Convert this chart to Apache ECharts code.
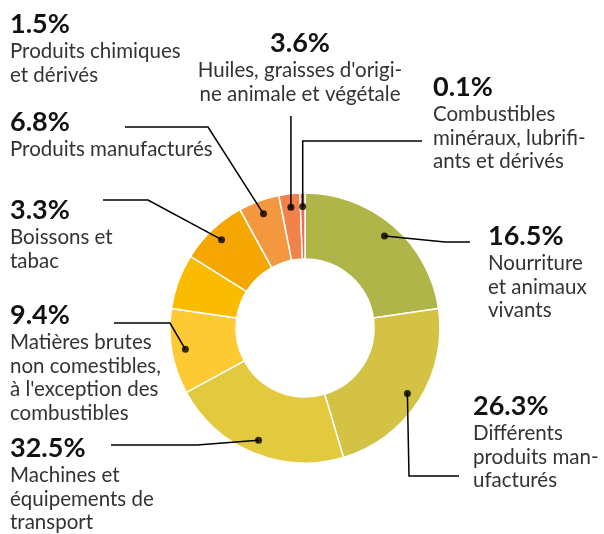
<!DOCTYPE html>
<html>
<head>
<meta charset="utf-8">
<script src="https://cdn.jsdelivr.net/npm/echarts@6/dist/echarts.min.js"></script>
<style>
    html, body { margin: 0; padding: 0; background: #fff; }
    #chart { width: 604px; height: 534px; }
</style>
</head>
<body>
<div id="chart"></div>
<script>
    const categories = [
        'Nourriture et animaux vivants',
        'Différents produits manufacturés',
        'Machines et équipements de transport',
        'Matières brutes non comestibles, à l\'exception des combustibles',
        'Produits chimiques et dérivés',
        'Boissons et tabac',
        'Produits manufacturés',
        'Huiles, graisses d\'origine animale et végétale',
        'Combustibles minéraux, lubrifiants et dérivés'
    ];
    const sliceValues = [22.7, 22.7, 21.7, 10.2, 6.6, 8.1, 4.9, 2.5, 0.6];
    // percentages as printed on the labels
    const shownPct = ['16.5%', '26.3%', '32.5%', '9.4%', '1.5%', '3.3%', '6.8%', '3.6%', '0.1%'];
    const labelText = [
        ['Nourriture', 'et animaux', 'vivants'],
        ['Différents', 'produits man-', 'ufacturés'],
        ['Machines et', 'équipements de', 'transport'],
        ['Matières brutes', 'non comestibles,', 'à l\'exception des', 'combustibles'],
        ['Produits chimiques', 'et dérivés'],
        ['Boissons et', 'tabac'],
        ['Produits manufacturés'],
        ['Huiles, graisses d\'origi-', 'ne animale et végétale'],
        ['Combustibles', 'minéraux, lubrifi-', 'ants et dérivés']
    ];
    const colors = ['#afb548', '#d3c243', '#e3c93d', '#fdca34', '#fbbb00', '#f6a600', '#f3983f', '#f0824a', '#ee6b50'];

    // layout
    const CX = 305, CY = 328, R0 = 69, R = 135;
    const DOT_R = 0.9;
    const FONT = 'Lato, sans-serif';
    const labelPos = [
        {x: 488, y: 220, align: 'left'},
        {x: 473, y: 390, align: 'left'},
        {x: 10, y: 432, align: 'left'},
        {x: 10, y: 299, align: 'left'},
        {x: 10, y: 8, align: 'left'},
        {x: 10, y: 194, align: 'left'},
        {x: 10, y: 106, align: 'left'},
        {x: 300, y: 27, align: 'center'},
        {x: 433, y: 71, align: 'left'}
    ];
    // leader line: [elbow x (null = straight from the dot), line y, end x]
    const leaders = [
        [445, 242, 470],
        [409, 476, 459],
        [197, 445, 111],
        [170, 323, 114],
        null,
        [148, 200, 103],
        [208, 127, 125],
        [null, 116, null],
        [null, 141, 422]
    ];

    const total = sliceValues.reduce((a, b) => a + b, 0);
    let acc = 0;
    const dotData = [];
    sliceValues.forEach((v, i) => {
        const mid = acc + v / 2;
        acc += v;
        if (leaders[i]) dotData.push([DOT_R, mid / total * 100]);
    });

    const pieBase = {
        type: 'pie',
        silent: true,
        center: [CX, CY],
        radius: [R0, R],
        startAngle: 90,
        clockwise: true,
        avoidLabelOverlap: false,
        emphasis: {disabled: true}
    };

    const chart = echarts.init(document.getElementById('chart'));
    chart.setOption({
        animation: false,
        polar: {center: [CX, CY], radius: R},
        angleAxis: {type: 'value', min: 0, max: 100, startAngle: 90, clockwise: true, show: false},
        radiusAxis: {type: 'value', min: 0, max: 1, show: false},
        series: [Object.assign({}, pieBase, {
            // the ring
            z: 2,
            itemStyle: {borderColor: '#fff', borderWidth: 1.5},
            label: {show: false},
            labelLine: {show: false},
            data: sliceValues.map((v, i) => ({value: v, name: categories[i], itemStyle: {color: colors[i]}}))
        }), Object.assign({}, pieBase, {
            // same ring, invisible, carrying labels and leader lines on top
            z: 3,
            itemStyle: {color: 'rgba(0,0,0,0)', borderWidth: 0},
            label: {
                show: true,
                position: 'outside',
                padding: 0,
                formatter: function (p) {
                    const i = p.dataIndex;
                    return '{p|' + shownPct[i] + '}\n' + labelText[i].map(t => '{t|' + t + '}').join('\n');
                },
                rich: {
                    p: {fontFamily: FONT, fontSize: 27, fontWeight: 'bold', lineHeight: 32, color: '#111'},
                    t: {fontFamily: FONT, fontSize: 20.5, lineHeight: 23.5, color: '#333'}
                }
            },
            labelLine: {show: true, lineStyle: {color: '#000', width: 1.5, opacity: 1}},
            labelLayout: function (p) {
                const pos = labelPos[p.dataIndex];
                const out = {x: pos.x, y: pos.y, align: pos.align, verticalAlign: 'top'};
                const ld = leaders[p.dataIndex];
                if (ld && p.labelLinePoints) {
                    const p0 = p.labelLinePoints[0];
                    const len = Math.hypot(p0[0] - CX, p0[1] - CY) || 1;
                    const dot = [CX + (p0[0] - CX) / len * R * DOT_R, CY + (p0[1] - CY) / len * R * DOT_R];
                    const pts = [dot, [ld[0] == null ? dot[0] : ld[0], ld[1]]];
                    if (ld[2] != null) pts.push([ld[2], ld[1]]);
                    out.labelLinePoints = pts;
                }
                return out;
            },
            data: sliceValues.map((v, i) => ({
                value: v,
                name: categories[i],
                labelLine: {show: !!leaders[i]}
            }))
        }), {
            type: 'scatter',
            coordinateSystem: 'polar',
            silent: true,
            z: 5,
            symbolSize: 7,
            itemStyle: {color: '#000'},
            data: dotData
        }]
    });
</script>
</body>
</html>
